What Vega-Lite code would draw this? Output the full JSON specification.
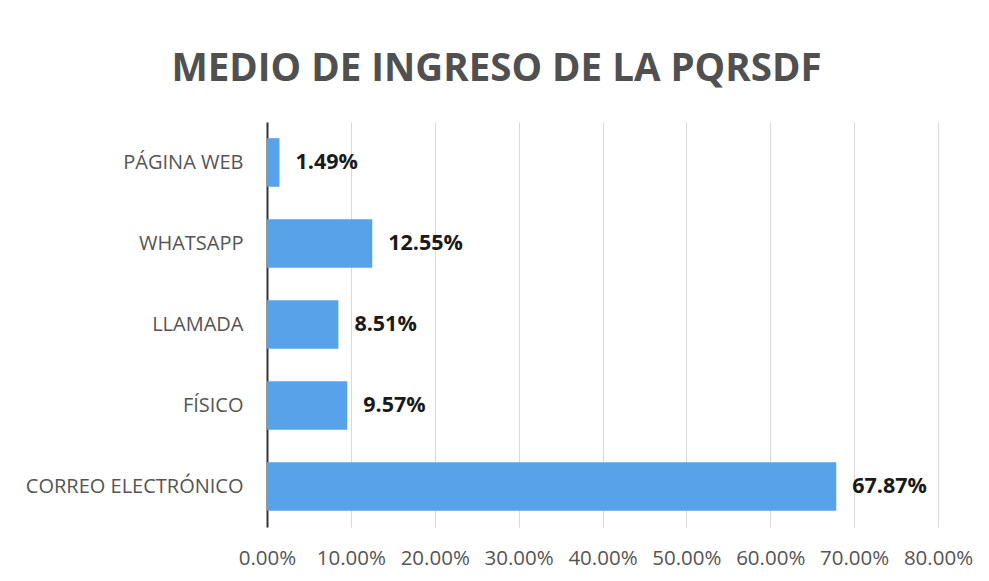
{
  "$schema": "https://vega.github.io/schema/vega-lite/v6.json",
  "width": 671,
  "height": 405,
  "autosize": "none",
  "padding": {"left": 267, "top": 122, "right": 51, "bottom": 54},
  "background": "white",
  "title": {
    "text": "MEDIO DE INGRESO DE LA PQRSDF",
    "font": "Open Sans",
    "fontSize": 38.5,
    "fontWeight": "bold",
    "color": "#505050",
    "anchor": "middle",
    "dx": -106,
    "offset": 33
  },
  "data": {
    "values": [
      {"medio": "PÁGINA WEB", "pct": 0.0149},
      {"medio": "WHATSAPP", "pct": 0.1255},
      {"medio": "LLAMADA", "pct": 0.0851},
      {"medio": "FÍSICO", "pct": 0.0957},
      {"medio": "CORREO ELECTRÓNICO", "pct": 0.6787}
    ]
  },
  "encoding": {
    "y": {
      "field": "medio",
      "type": "nominal",
      "sort": null,
      "scale": {"paddingInner": 0.4, "paddingOuter": 0.2},
      "axis": {
        "title": null,
        "ticks": false,
        "domainColor": "#333333",
        "domainWidth": 2,
        "labelFont": "Open Sans",
        "labelFontSize": 20,
        "labelColor": "#555555",
        "labelPadding": 24,
        "labelLimit": 300
      }
    },
    "x": {
      "field": "pct",
      "type": "quantitative",
      "scale": {"domain": [0, 0.8], "nice": false},
      "axis": {
        "title": null,
        "values": [0, 0.1, 0.2, 0.3, 0.4, 0.5, 0.6, 0.7, 0.8],
        "format": ".2%",
        "domain": false,
        "ticks": false,
        "grid": true,
        "gridColor": "#d9d9d9",
        "labelFont": "Open Sans",
        "labelFontSize": 20.5,
        "labelColor": "#555555",
        "labelPadding": 21,
        "labelFlush": false,
        "labelOverlap": false
      }
    }
  },
  "layer": [
    {"mark": {"type": "bar", "color": "#58a2ea"}},
    {
      "mark": {"type": "text", "align": "left", "dx": 16, "font": "Open Sans", "fontSize": 21.5, "fontWeight": "bold", "color": "#1a1a1a"},
      "encoding": {"text": {"field": "pct", "type": "quantitative", "format": ".2%"}}
    }
  ],
  "config": {"view": {"stroke": null}, "axisY": {"zindex": 1}}
}
